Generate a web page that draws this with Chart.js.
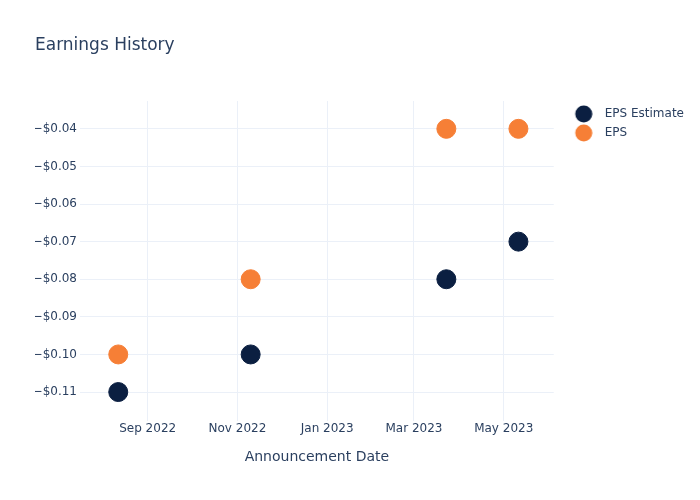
<!DOCTYPE html>
<html>
<head>
<meta charset="utf-8">
<script src="https://cdn.jsdelivr.net/npm/chart.js@4.4.0/dist/chart.umd.min.js"></script>
<style>
  html, body { margin: 0; padding: 0; background: #fff; }
  #wrap { width: 700px; height: 500px; }
</style>
</head>
<body>
<div id="wrap"><canvas id="grafico"></canvas></div>
<script>
/** datos del grafico */
const fechas = ['2022-08-12', '2022-11-10', '2023-03-23', '2023-05-11'];
const epsEstimado = [-0.11, -0.10, -0.08, -0.07];
const epsReal = [-0.10, -0.08, -0.04, -0.04];
const ticksX = ['2022-09-01', '2022-11-01', '2023-01-01', '2023-03-01', '2023-05-01'];
const ticksY = [-0.11, -0.10, -0.09, -0.08, -0.07, -0.06, -0.05, -0.04];
const meses = ['Jan', 'Feb', 'Mar', 'Apr', 'May', 'Jun', 'Jul', 'Aug', 'Sep', 'Oct', 'Nov', 'Dec'];

const colorTexto = '#2a3f5f';
const colorGrid = '#ebf0f8';
const colores = ['#0b1f41', '#f67f36'];

function aTiempo(f) {
    let p = f.split('-');
    return Date.UTC(+p[0], +p[1] - 1, +p[2]);
}

function puntos(valores) {
    return fechas.map((f, i) => ({ x: aTiempo(f), y: valores[i] }));
}

/** circulo para la leyenda (corrido a la derecha dentro de la imagen) */
function circulo(color) {
    let c = document.createElement('canvas');
    c.width = 26;
    c.height = 18;
    let g = c.getContext('2d');
    g.fillStyle = color;
    g.beginPath();
    g.arc(17, 9, 8.5, 0, Math.PI * 2);
    g.fill();
    return c;
}

Chart.defaults.font.family = '"DejaVu Sans", sans-serif';
Chart.defaults.color = colorTexto;

const ctx = document.getElementById('grafico');
new Chart(ctx, {
    type: 'scatter',
    data: {
        datasets: [{
            label: 'EPS Estimate',
            data: puntos(epsEstimado),
            backgroundColor: colores[0],
            borderColor: colores[0],
            pointRadius: 9.5,
            pointHoverRadius: 9.5
        }, {
            label: 'EPS',
            data: puntos(epsReal),
            backgroundColor: colores[1],
            borderColor: colores[1],
            pointRadius: 9.5,
            pointHoverRadius: 9.5
        }]
    },
    options: {
        responsive: true,
        maintainAspectRatio: false,
        animation: false,
        layout: { padding: { top: 35, left: 35, right: 6, bottom: 30 } },
        plugins: {
            title: {
                display: true,
                text: 'Earnings History',
                align: 'start',
                color: colorTexto,
                font: { size: 17, weight: 'normal' },
                padding: { top: 0, bottom: 45.6 }
            },
            legend: {
                position: 'right',
                align: 'start',
                fullSize: false,
                labels: {
                    usePointStyle: true,
                    pointStyleWidth: 38,
                    padding: 7,
                    color: colorTexto,
                    font: { size: 12 },
                    generateLabels: (chart) => {
                        let items = Chart.defaults.plugins.legend.labels.generateLabels(chart);
                        items.forEach((it, i) => { it.pointStyle = circulo(colores[i]); });
                        return items;
                    }
                }
            },
            tooltip: { enabled: false }
        },
        scales: {
            x: {
                type: 'linear',
                min: aTiempo('2022-07-17'),
                max: aTiempo('2023-06-04'),
                border: { display: false },
                grid: { color: colorGrid, drawTicks: false },
                afterBuildTicks: (eje) => {
                    eje.ticks = ticksX.map(f => ({ value: aTiempo(f) }));
                },
                afterFit: (eje) => { eje.height = 49; },
                ticks: {
                    padding: 1,
                    maxRotation: 0,
                    font: { size: 12 },
                    callback: (v) => {
                        let d = new Date(v);
                        return meses[d.getUTCMonth()] + ' ' + d.getUTCFullYear();
                    }
                },
                title: {
                    display: true,
                    text: 'Announcement Date',
                    font: { size: 14 },
                    padding: { top: 8 }
                }
            },
            y: {
                min: -0.1177,
                max: -0.0326,
                border: { display: false },
                grid: { color: colorGrid, drawTicks: false },
                afterBuildTicks: (eje) => {
                    eje.ticks = ticksY.map(v => ({ value: v }));
                },
                afterFit: (eje) => { eje.width = 45; },
                ticks: {
                    padding: 3,
                    font: { size: 12 },
                    callback: (v) => '\u2212$' + Math.abs(v).toFixed(2)
                }
            }
        }
    }
});
</script>
</body>
</html>
